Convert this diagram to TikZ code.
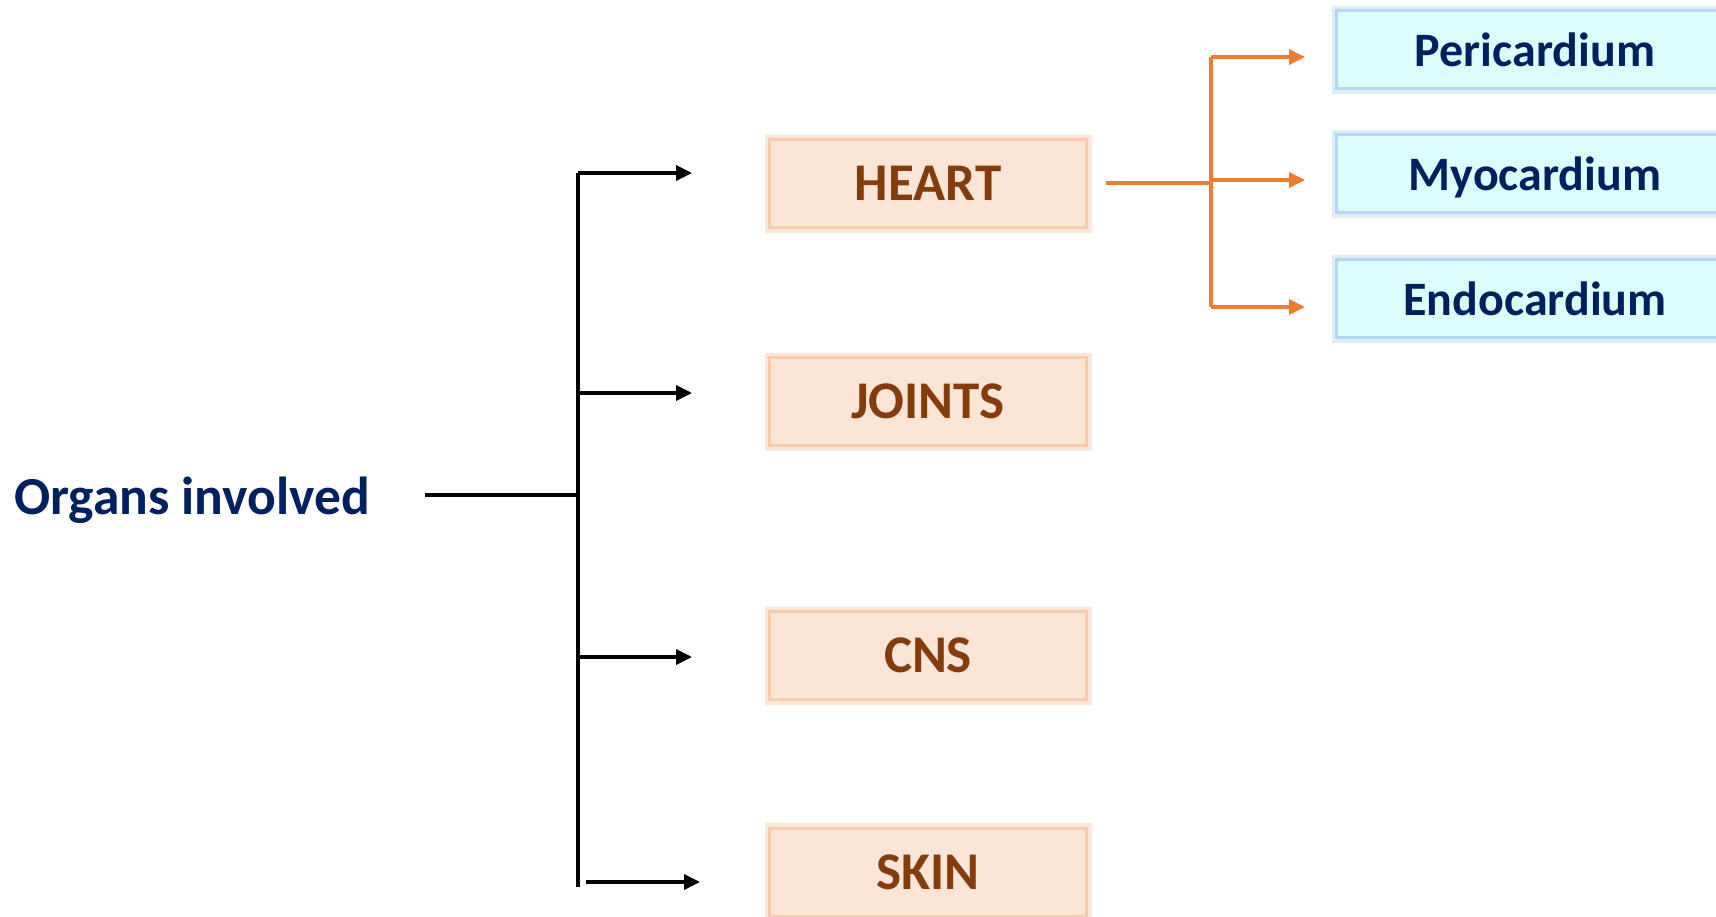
\documentclass[tikz,border=0pt]{standalone}
\usepackage{fontspec}
\setmainfont{Carlito}
\usetikzlibrary{arrows.meta,calc}
\definecolor{navy}{HTML}{002060}
\definecolor{brownt}{HTML}{843C0C}
\definecolor{orfill}{HTML}{FBE5D6}
\definecolor{orline}{HTML}{F8CBAD}
\definecolor{orglow}{HTML}{F4B183}
\definecolor{blfill}{HTML}{DDFDFD}
\definecolor{blline}{HTML}{B4D7F7}
\definecolor{blglow}{HTML}{9DC3E6}
\definecolor{arrorange}{HTML}{ED7D31}
\begin{document}
\begin{tikzpicture}[x=1pt,y=-1pt,
  orgbox/.style={draw=orline, line width=3pt, fill=orfill, minimum width=317pt, minimum height=88pt, inner sep=0pt,
    text=brownt, font=\fontsize{53}{63}\selectfont\bfseries,
    preaction={draw=orglow, line width=10pt, opacity=0.3}},
  layerbox/.style={draw=blline, line width=3pt, fill=blfill, minimum width=397pt, minimum height=78pt, inner sep=0pt,
    text=navy, font=\fontsize{48}{58}\selectfont\bfseries, text depth=0pt,
    preaction={draw=blglow, line width=10pt, opacity=0.3}},
  blk/.style={line width=3.5pt, black},
  blkarr/.style={blk, -{Triangle[length=16pt,width=15pt]}},
  orarr/.style={line width=3.5pt, arrorange, -{Triangle[length=16pt,width=15pt]}},
  orln/.style={line width=3.5pt, arrorange}
]
\useasboundingbox (0,0) rectangle (1716,916);
\fill[white] (0,0) rectangle (1716,916);

% title
\node[anchor=west, text=navy, font=\fontsize{53.5}{64}\selectfont\bfseries, inner sep=0pt] (org) at (14,500) {Organs involved};

% organ boxes
\node[orgbox] (heart) at (928,183.5) {HEART};
\node[orgbox] (joints) at (928,401.5) {JOINTS};
\node[orgbox] (cns) at (928,655.5) {CNS};
\node[orgbox] (skin) at (928,872) {SKIN};

% layer boxes
\node[layerbox] (peri) at (1535,49.5) {Pericardium};
\node[layerbox] (myo) at (1535,173.5) {Myocardium};
\node[layerbox] (endo) at (1535,298.5) {Endocardium};

% black tree
\coordinate (os) at (425,495);
\coordinate (tj) at (578,495);
\coordinate (ttop) at (578,173);
\coordinate (tbot) at (578,887);
\coordinate (aH) at (692,173);
\coordinate (jS) at (578,393);
\coordinate (aJ) at (692,393);
\coordinate (cS) at (578,657);
\coordinate (aC) at (692,657);
\coordinate (sS) at (586,882);
\coordinate (aS) at (700,882);

\draw[blk] (os) -- (tj);
\draw[blk] (tbot) -- (ttop);
\draw[blkarr] (ttop) -- (aH);
\draw[blkarr] (jS) -- (aJ);
\draw[blkarr] (cS) -- (aC);
\draw[blkarr] (sS) -- (aS);

% orange tree
\coordinate (hs) at (1106,183);
\coordinate (hj) at (1211,183);
\coordinate (otop) at (1211,57);
\coordinate (obot) at (1211,307);
\coordinate (aP) at (1305,57);
\coordinate (mS) at (1211,180);
\coordinate (aM) at (1305,180);
\coordinate (aE) at (1305,307);

\draw[orln] (hs) -- (hj);
\draw[orln] (obot) -- (otop);
\draw[orarr] (otop) -- (aP);
\draw[orarr] (mS) -- (aM);
\draw[orarr] (obot) -- (aE);
\end{tikzpicture}
\end{document}
